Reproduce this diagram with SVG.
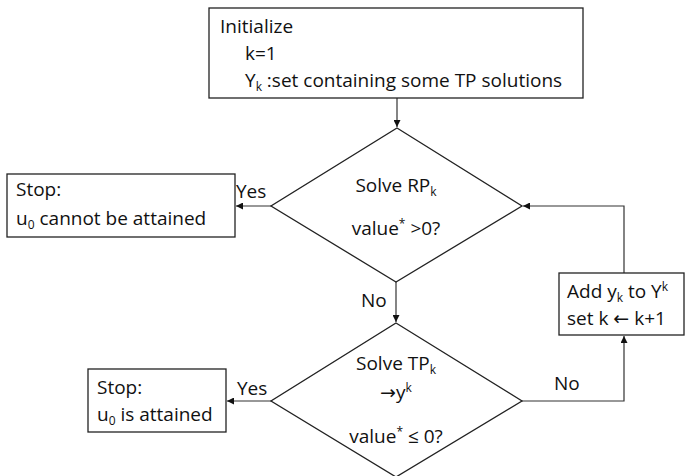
<svg xmlns="http://www.w3.org/2000/svg" width="687" height="476" viewBox="0 0 687 476">
<style>
.box{fill:#fff;stroke:#222;stroke-width:1.3}
.t{font-family:"Open Sans","Liberation Sans",sans-serif;font-size:19px;fill:#111}
.s{font-size:12px}
.ar{font-family:"DejaVu Sans",sans-serif}
.c{fill:none;stroke:#333;stroke-width:1.2}
</style>
<defs>
<marker id="a" viewBox="0 0 10 10" refX="10" refY="5" markerWidth="7" markerHeight="7" markerUnits="userSpaceOnUse" orient="auto">
<path d="M0,0 L10,5 L0,10 z" fill="#111"/>
</marker>
</defs>
<rect width="687" height="476" fill="#fff"/>
<g id="connectors">
<line class="c" x1="397" y1="98" x2="397" y2="127" marker-end="url(#a)"/>
<line class="c" x1="271" y1="206" x2="236" y2="206" marker-end="url(#a)"/>
<line class="c" x1="396" y1="282" x2="396" y2="322" marker-end="url(#a)"/>
<line class="c" x1="271" y1="401" x2="227" y2="401" marker-end="url(#a)"/>
<polyline class="c" points="522,401 624,401 624,336" marker-end="url(#a)"/>
<polyline class="c" points="624,273 624,206 523,206" marker-end="url(#a)"/>
<text class="t" x="236" y="198">Yes</text>
<text class="t" x="237" y="395">Yes</text>
<text class="t" x="361" y="307">No</text>
<text class="t" x="554" y="390">No</text>
</g>
<g id="init">
<rect class="box" x="209" y="8" width="374" height="90"/>
<text class="t" x="220" y="33">Initialize</text>
<text class="t" x="245" y="60">k=1</text>
<text class="t" x="245" y="87">Y<tspan class="s" dy="4">k</tspan><tspan dy="-4"> :set  containing some TP solutions</tspan></text>
</g>
<g id="d1">
<polygon class="box" points="397,128 522,206 396,282 271,206"/>
<text class="t" x="396" y="192" text-anchor="middle">Solve RP<tspan class="s" dy="4">k</tspan></text>
<text class="t" x="396" y="235" text-anchor="middle">value<tspan class="s" dy="-7">*</tspan><tspan dy="7"> &gt;0?</tspan></text>
</g>
<g id="stop1">
<rect class="box" x="7" y="174" width="228" height="63"/>
<text class="t" x="16" y="196">Stop:</text>
<text class="t" x="16" y="225">u<tspan class="s" dy="4">0</tspan><tspan dy="-4"> cannot be attained</tspan></text>
</g>
<g id="d2">
<polygon class="box" points="396,323 522,401 396,477 271,401"/>
<text class="t" x="396" y="370" text-anchor="middle">Solve TP<tspan class="s" dy="4">k</tspan></text>
<text class="t" x="396" y="399" text-anchor="middle"><tspan class="ar">→</tspan>y<tspan class="s" dy="-7">k</tspan></text>
<text class="t" x="396" y="443" text-anchor="middle">value<tspan class="s" dy="-7">*</tspan><tspan dy="7"> ≤ 0?</tspan></text>
</g>
<g id="stop2">
<rect class="box" x="88" y="369" width="138" height="63"/>
<text class="t" x="97" y="394">Stop:</text>
<text class="t" x="97" y="421">u<tspan class="s" dy="4">0</tspan><tspan dy="-4"> is attained</tspan></text>
</g>
<g id="add">
<rect class="box" x="559" y="273" width="125" height="62"/>
<text class="t" x="567" y="298">Add y<tspan class="s" dy="4">k</tspan><tspan dy="-4"> to Y</tspan><tspan class="s" dy="-7">k</tspan></text>
<text class="t" x="567" y="325">set k <tspan class="ar">←</tspan> k+1</text>
</g>
</svg>
